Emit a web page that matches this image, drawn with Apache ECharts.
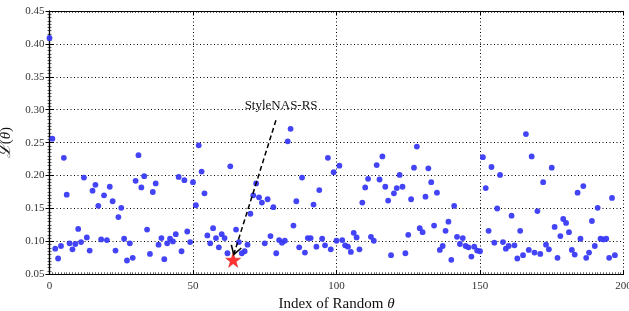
<!DOCTYPE html>
<html>
<head>
<meta charset="utf-8">
<script src="https://cdn.jsdelivr.net/npm/echarts@6/dist/echarts.min.js"></script>
<style>html,body{margin:0;padding:0;background:#fff}#c{width:629px;height:311px}</style>
</head>
<body>
<div id="c"></div>
<script>
// ---- data ----
const lossValues = [
0.409,0.256,0.089,0.074,0.093,0.227,0.171,0.097,0.088,0.096,
0.119,0.099,0.197,0.106,0.086,0.177,0.186,0.154,0.103,0.170,
0.102,0.183,0.161,0.086,0.137,0.151,0.104,0.071,0.097,0.075,
0.192,0.231,0.182,0.199,0.118,0.081,0.175,0.188,0.095,0.105,
0.073,0.097,0.104,0.100,0.111,0.198,0.085,0.193,0.115,0.099,
0.190,0.155,0.246,0.206,0.173,0.109,0.097,0.120,0.105,0.091,
0.111,0.105,0.082,0.214,null,0.118,0.099,0.082,0.085,0.095,
0.142,0.170,0.188,0.167,0.159,0.097,0.164,0.108,0.152,0.082,
0.102,0.098,0.101,0.252,0.271,0.124,0.161,0.091,0.197,0.083,
0.105,0.105,0.156,0.092,0.178,0.104,0.094,0.227,0.088,0.205,
0.101,0.215,0.102,0.094,0.092,0.084,0.113,0.106,0.088,0.159,
0.182,0.195,0.107,0.101,0.216,0.194,0.229,0.183,0.162,0.079,
0.173,0.181,0.201,0.183,0.082,0.110,0.164,0.212,0.244,0.120,
0.114,0.168,0.211,0.190,0.124,0.174,0.087,0.093,0.116,0.130,
0.072,0.154,0.107,0.096,0.105,0.093,0.091,0.077,0.092,0.086,
0.085,0.228,0.181,0.116,0.213,0.098,0.150,0.201,0.099,0.089,
0.093,0.139,0.094,0.074,0.116,0.079,0.263,0.087,0.229,0.083,
0.146,0.081,0.190,0.095,0.088,0.212,0.122,0.075,0.108,0.134,
0.128,0.114,0.087,0.080,0.174,0.104,0.184,0.075,0.083,0.131,
0.093,0.151,0.104,0.103,0.104,0.075,0.166,0.079
];
const bestIndex = 64;
const bestValue = 0.072;
const bestLabel = 'StyleNAS-RS';
const xTicks = [0, 50, 100, 150, 200];
const yTicks = [0.05, 0.10, 0.15, 0.20, 0.25, 0.30, 0.35, 0.40, 0.45];
const arrowFrom = [78.9, 0.284];
const arrowTo = [64.2, 0.080];
const labelAt = [80.7, 0.306];

const scatterData = lossValues.map((v, i) => [i, v]).filter(d => d[1] !== null);

const serif = "'Liberation Serif', 'DejaVu Serif', serif";
const grid = {left: 49.5, right: 5.5, top: 11, bottom: 36.7, outerBoundsMode: 'none', containLabel: false};
const starPath = 'path://M50,0 L61.8,35.1 L98.1,35.1 L68.8,56.7 L79.4,90.5 L50,69.1 L20.6,90.5 L31.2,56.7 L1.9,35.1 L38.2,35.1 Z';

const gridLine = {show: true, lineStyle: {color: '#000', type: [1, 2.5], width: 1}};
const xBase = {
  type: 'value', min: xTicks[0], max: xTicks[xTicks.length - 1], interval: 50,
  axisLine: {lineStyle: {color: '#000', width: 1.2}},
  axisTick: {inside: true, length: 4, lineStyle: {color: '#000'}},
  minorTick: {show: true, splitNumber: 50, length: 2, lineStyle: {color: '#000', width: 0.6}}
};
const yBase = {
  type: 'value', min: yTicks[0], max: yTicks[yTicks.length - 1], interval: 0.05,
  axisLine: {lineStyle: {color: '#000', width: 1.2}},
  axisTick: {inside: true, length: 4, lineStyle: {color: '#000'}},
  minorTick: {show: true, splitNumber: 10, length: 2, lineStyle: {color: '#000', width: 0.6}}
};

const chart = echarts.init(document.getElementById('c'), null, {renderer: 'canvas'});
chart.setOption({
  animation: false,
  backgroundColor: '#fff',
  grid: grid,
  xAxis: [
    Object.assign({}, xBase, {
      position: 'bottom',
      name: 'Index of Random {i|θ}', nameLocation: 'middle', nameGap: 17,
      nameTextStyle: {fontFamily: serif, fontSize: 15, color: '#111',
        rich: {i: {fontFamily: serif, fontStyle: 'italic', fontSize: 15, color: '#111'}}},
      axisLabel: {margin: 6, fontFamily: serif, fontSize: 11, color: '#333'},
      splitLine: gridLine
    }),
    Object.assign({}, xBase, {position: 'top', axisLabel: {show: false}, splitLine: {show: false}})
  ],
  yAxis: [
    Object.assign({}, yBase, {
      position: 'left',
      name: '{s|ℒ}{p|(}{i|θ}{p|)}', nameLocation: 'middle', nameGap: 33, nameRotate: 90,
      nameTextStyle: {fontFamily: serif, fontSize: 15, color: '#111',
        rich: {
          s: {fontFamily: serif, fontStyle: 'italic', fontSize: 17, color: '#111'},
          p: {fontFamily: serif, fontSize: 15, color: '#111'},
          i: {fontFamily: serif, fontStyle: 'italic', fontSize: 15, color: '#111'}
        }},
      axisLabel: {margin: 5, fontFamily: serif, fontSize: 11, color: '#333',
        formatter: v => v.toFixed(2)},
      splitLine: gridLine
    }),
    Object.assign({}, yBase, {position: 'right', axisLabel: {show: false}, splitLine: {show: false}})
  ],
  series: [
    {
      type: 'scatter', xAxisIndex: 0, yAxisIndex: 0,
      data: scatterData, symbolSize: 5.8,
      itemStyle: {color: '#3a3af7', opacity: 0.95}
    },
    {
      type: 'scatter', xAxisIndex: 0, yAxisIndex: 0, z: 5,
      data: [[bestIndex, bestValue]], symbol: starPath, symbolSize: 15,
      itemStyle: {color: '#ff0000', borderColor: '#cc0000', borderWidth: 0.5},
      markLine: {
        silent: true, z: 6,
        symbol: ['none', 'none'],
        label: {show: false},
        lineStyle: {color: '#000', type: [5, 3], width: 1.5},
        data: [[{coord: arrowFrom}, {coord: arrowTo}]]
      }
    }
  ]
});

// annotation: open arrow head and label, positioned through the chart's own scales
const p0 = chart.convertToPixel({gridIndex: 0}, arrowFrom);
const p1 = chart.convertToPixel({gridIndex: 0}, arrowTo);
const lp = chart.convertToPixel({gridIndex: 0}, labelAt);
const ang = Math.atan2(p0[1] - p1[1], p0[0] - p1[0]);
const hl = 10, spread = 0.55;
const a1 = [p1[0] + hl * Math.cos(ang + spread), p1[1] + hl * Math.sin(ang + spread)];
const a2 = [p1[0] + hl * Math.cos(ang - spread), p1[1] + hl * Math.sin(ang - spread)];
chart.setOption({
  graphic: {
    elements: [
      {type: 'polyline', z: 100, silent: true,
       shape: {points: [[a1[0], a1[1]], [p1[0], p1[1]], [a2[0], a2[1]]]},
       style: {stroke: '#000', lineWidth: 1.6, fill: 'none'}},
      {type: 'text', z: 100, x: lp[0], y: lp[1], silent: true,
       style: {text: bestLabel, font: '13px ' + serif, fill: '#111', align: 'center', verticalAlign: 'middle'}}
    ]
  }
});
</script>
</body>
</html>
